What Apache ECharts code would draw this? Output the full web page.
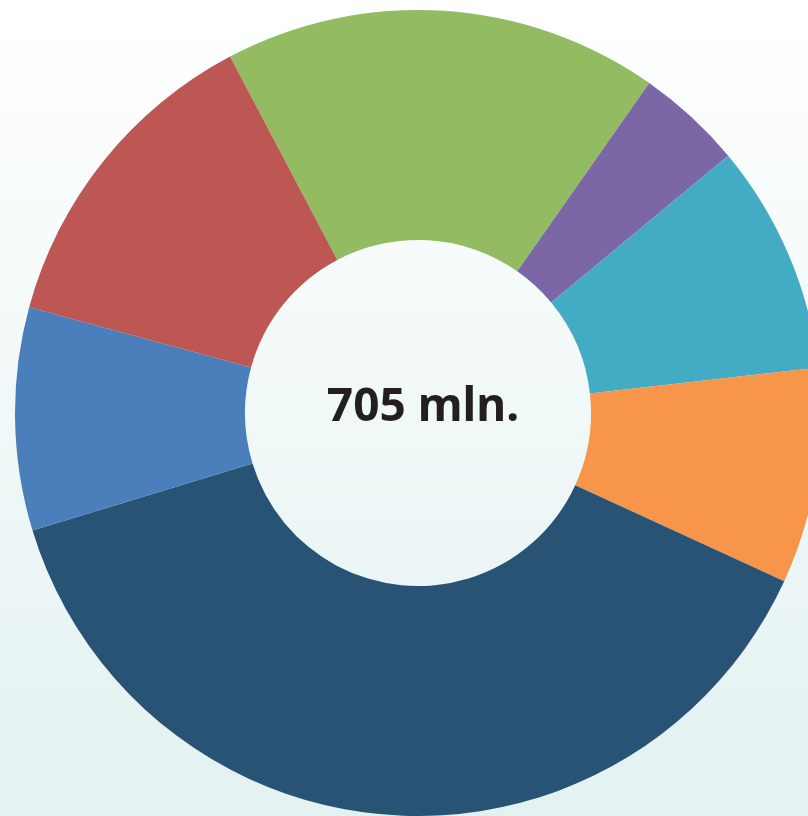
<!DOCTYPE html>
<html>
<head>
<meta charset="utf-8">
<script src="https://cdn.jsdelivr.net/npm/echarts@6/dist/echarts.min.js"></script>
<style>
  html, body { margin: 0; padding: 0; }
  body { background: linear-gradient(to bottom, #ffffff 0%, #e3f1f1 100%); }
  #chart { width: 808px; height: 816px; }
</style>
</head>
<body>
<div id="chart"></div>
<script>
// values in mln, clockwise from the green slice
const categories = ['Green', 'Purple', 'Teal', 'Orange', 'Dark blue', 'Blue', 'Red'];
const values = [123, 30, 65, 61, 271, 63, 92];
const colors = ['#93bb62', '#7c67a6', '#43acc4', '#f7954b', '#285375', '#4a7fbb', '#bc5754'];
const totalLabel = '705 mln.';

let chart = echarts.init(document.getElementById('chart'));
chart.setOption({
  backgroundColor: 'transparent',
  animation: false,
  title: {
    text: totalLabel,
    left: 418,
    top: 403,
    textAlign: 'center',
    textVerticalAlign: 'middle',
    textStyle: { fontFamily: 'Noto Sans', fontWeight: 'bold', fontSize: 46, color: '#231f20' }
  },
  series: [{
    type: 'pie',
    center: [418, 413],
    radius: [173, 403],
    startAngle: 117.8,
    clockwise: true,
    label: { show: false },
    labelLine: { show: false },
    emphasis: { disabled: true },
    itemStyle: { borderWidth: 0 },
    data: categories.map((name, i) => ({ name, value: values[i], itemStyle: { color: colors[i] } }))
  }]
});
</script>
</body>
</html>
